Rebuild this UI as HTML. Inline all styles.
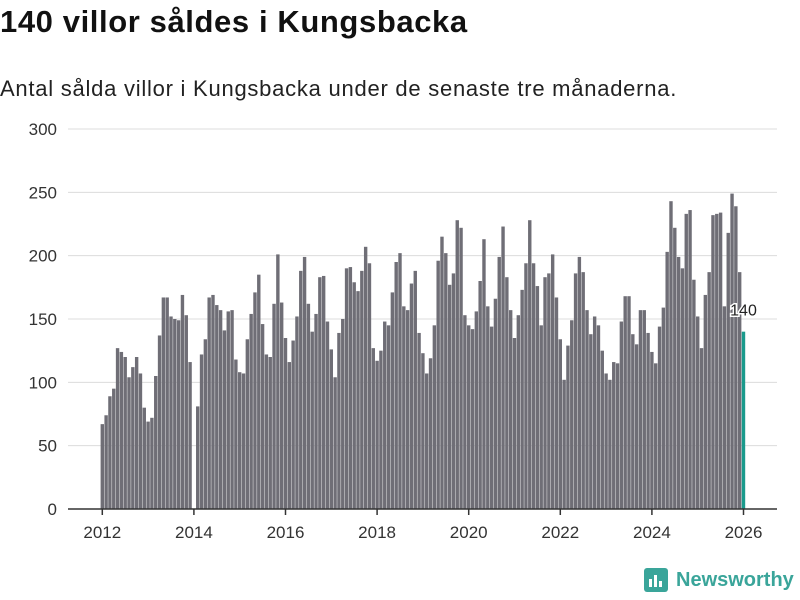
<!DOCTYPE html>
<html><head><meta charset="utf-8"><style>
body{margin:0;width:800px;height:600px;background:#fff;font-family:"Liberation Sans",sans-serif;overflow:hidden;position:relative}
h1{position:absolute;left:0;top:4px;margin:0;font-size:31px;letter-spacing:0.6px;font-weight:bold;color:#111}
.sub{position:absolute;left:0;top:76px;font-size:22px;letter-spacing:0.75px;color:#222}
svg{position:absolute;left:0;top:0}
</style></head><body>
<h1>140 villor såldes i Kungsbacka</h1>
<div class="sub">Antal sålda villor i Kungsbacka under de senaste tre månaderna.</div>
<svg id="c" width="800" height="600"></svg>
<script>
const startYear = 2012;
const values = [67,74,89,95,127,124,120,104,112,120,107,80,
69,72,105,137,167,167,152,150,149,169,153,116,
0,81,122,134,167,169,161,157,141,156,157,118,
108,107,134,154,171,185,146,122,120,162,201,163,
135,116,133,152,188,199,162,140,154,183,184,148,
126,104,139,150,190,191,179,172,188,207,194,127,
117,125,148,145,171,195,202,160,157,178,188,139,
123,107,119,145,196,215,202,177,186,228,222,153,
145,142,156,180,213,160,144,166,199,223,183,157,
135,153,173,194,228,194,176,145,183,186,201,167,
134,102,129,149,186,199,187,157,138,152,145,125,
107,102,116,115,148,168,168,138,130,157,157,139,
124,115,144,159,203,243,222,199,190,233,236,181,
152,127,169,187,232,233,234,160,218,249,239,187,
140];
const yTicks = [0,50,100,150,200,250,300];
const xTicks = [2012,2014,2016,2018,2020,2022,2024,2026];
const NS="http://www.w3.org/2000/svg", svg=document.getElementById('c');
const x = t => 102.3 + (t-2012)*45.8;
const y = v => 509 - v*380/300;
function mk(tag, attrs, txt){const e=document.createElementNS(NS,tag);for(const k in attrs)e.setAttribute(k,attrs[k]);if(txt!==undefined)e.textContent=txt;svg.appendChild(e);return e;}
yTicks.forEach(v=>{
  if(v>0){const g=mk('line',{x1:68,x2:777,y1:y(v),y2:y(v),stroke:'#dcdcdc','stroke-width':1});
  
  }
  const t=mk('text',{x:57,y:y(v)+6,'text-anchor':'end','font-size':17,fill:'#333'},v);
  
  
});
values.forEach((v,i)=>{
  if(!v) return;
  const last=i===values.length-1;
  const cx=x(startYear+i/12);
  const r=mk('rect',{x:cx-1.7,y:y(v),width:3.4,height:y(0)-y(v),fill:last?'#1a9a8c':'#6f6e76'});
  
  
  if(last){const l=mk('text',{x:cx,y:y(v)-16,'text-anchor':'middle','font-size':16,fill:'#222',stroke:'#fff','stroke-width':3,'paint-order':'stroke'},v);
  
  }
});
const ax=mk('line',{x1:68,x2:777,y1:509,y2:509,stroke:'#333','stroke-width':1.5});


xTicks.forEach(yr=>{
  const tk=mk('line',{x1:x(yr),x2:x(yr),y1:509,y2:515,stroke:'#333','stroke-width':1.5});
  
  
  const t=mk('text',{x:x(yr),y:538,'text-anchor':'middle','font-size':17,fill:'#333'},yr);
  
  
});
</script>
<div style="position:absolute;left:644px;top:568px;display:flex;align-items:center">
<div style="width:24px;height:24px;background:#3aa59a;border-radius:3px;position:relative">
<div style="position:absolute;left:5px;bottom:5px;width:3px;height:8px;background:#fff"></div>
<div style="position:absolute;left:10px;bottom:5px;width:3px;height:12px;background:#fff"></div>
<div style="position:absolute;left:15px;bottom:5px;width:3px;height:6px;background:#fff"></div></div>
<span style="margin-left:8px;font-size:20px;font-weight:bold;color:#3aa59a">Newsworthy</span></div>
</body></html>
